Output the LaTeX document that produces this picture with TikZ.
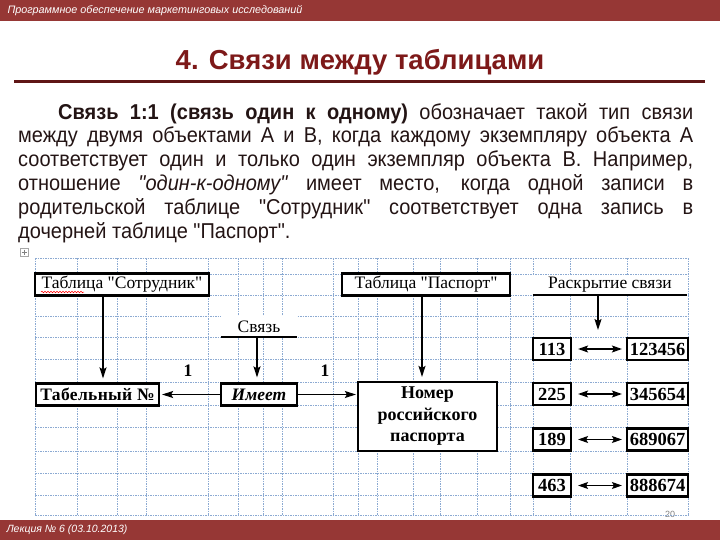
\documentclass[tikz,border=0pt]{standalone}
\usepackage{fontspec}
\setmainfont{Liberation Serif}[Ligatures=TeXOff]
\newfontfamily\arialf{Liberation Sans}[Ligatures=TeXOff]
\newfontfamily\narrowf{Liberation Sans}[FakeStretch=0.93, Ligatures=TeXOff]
\usetikzlibrary{arrows.meta,decorations.pathmorphing}
\definecolor{barred}{RGB}{150,55,53}
\definecolor{titlered}{RGB}{125,25,25}
\definecolor{rulered}{RGB}{95,22,22}
\definecolor{gridblue}{RGB}{140,170,210}
\definecolor{bodytext}{RGB}{35,20,20}

\begin{document}
\begin{tikzpicture}[x=1pt,y=-1pt]
    \tikzset{box/.style={draw=black, line width=2.2pt, fill=white, inner sep=0pt, minimum width=#1, minimum height=22pt, font=\fontsize{17.5}{19}\selectfont},
        boldbox/.style={box=#1, font=\bfseries\fontsize{18}{20}\selectfont},
        numbox/.style={box=#1, font=\bfseries\fontsize{18.5}{20}\selectfont},
        plain/.style={fill=white, inner sep=0pt, font=\fontsize{17.5}{19}\selectfont},
        arr/.style={-{Stealth[length=11pt,width=7pt,inset=2pt]}, line width=1.4pt},
        gridline/.style={gridblue, line width=0.6pt, dash pattern=on 1.5pt off 1pt}}
    
    \useasboundingbox (0,0) rectangle (720,540);
    
    % Header and footer
    \fill[barred] (0,0) rectangle (720,21);
    \fill[barred] (0,520) rectangle (720,540);
    \node[anchor=west, white, font=\arialf\itshape\fontsize{10.8}{12}\selectfont] (head) at (4,10.5) {Программное обеспечение маркетинговых исследований};
    \node[anchor=west, white, font=\arialf\itshape\fontsize{10.5}{12}\selectfont] (foot) at (3,530) {Лекция № 6 (03.10.2013)};
    \node[gray, font=\arialf\fontsize{9}{10}\selectfont] (page) at (670,514) {20};
    
    % Title
    \node[titlered, font=\arialf\bfseries\fontsize{27.5}{30}\selectfont] (title) at (360,62) {4. Связи между таблицами};
    \draw[rulered, line width=3pt] (14,82) -- (705,82);
    
    % Definition text
    \node[anchor=north west, inner sep=0pt, align=left, bodytext, font=\narrowf\fontsize{21.5}{23.8}\selectfont] (text) at (18,103) {%
        \makebox[675pt][s]{\hspace*{40pt}\textbf{Связь 1:1 (связь один к одному)} обозначает такой тип связи}\\
        \makebox[675pt][s]{между двумя объектами А и В, когда каждому экземпляру объекта А}\\
        \makebox[675pt][s]{соответствует один и только один экземпляр объекта В. Например,}\\
        \makebox[675pt][s]{отношение \textit{"один-к-одному"} имеет место, когда одной записи в}\\
        \makebox[675pt][s]{родительской таблице "Сотрудник" соответствует одна запись в}\\
        дочерней таблице "Паспорт".};
    
    % Table grid
    \foreach \gx in {35,77,117,146,208,238,263,282,333,358,377,413,440,477,510,533,570,627,688}
        \draw[gridline] (\gx,258) -- (\gx,515);
    \foreach \gy in {258,274,295,316,337,359,382,405,427,451,473,495,515}
        \draw[gridline] (35,\gy) -- (688,\gy);
    \draw[gray!70, fill=white, line width=0.5pt] (20,248) rectangle (28,256);
    \draw[gray, line width=0.5pt] (21.5,252) -- (26.5,252) (24,249.5) -- (24,254.5);
    
    % Tables and relation
    \node[box=174pt] (sotr) at (122,284.5) {Таблица "Сотрудник"};
    \draw[red, line width=0.5pt, decorate, decoration={snake, amplitude=0.8pt, segment length=3pt}] (41,292) -- (84,292);
    \node[box=168pt] (pasp) at (426,284.5) {Таблица "Паспорт"};
    \node[plain, minimum width=154pt, minimum height=20pt] (rask) at (610,285) {Раскрытие связи};
    \draw[line width=2pt] (rask.south west) -- (rask.south east);
    \node[plain, minimum width=76pt, minimum height=21pt] (svyaz) at (259,326.5) {Связь};
    \draw[line width=2pt] (svyaz.south west) -- (svyaz.south east);
    
    \node[boldbox=123pt, font=\bfseries\fontsize{17.5}{20}\selectfont\addfontfeature{LetterSpace=2}] (tab) at (97.5,394.5) {Табельный №};
    \node[box=76pt, font=\bfseries\itshape\fontsize{17.5}{19}\selectfont] (imeet) at (259,394.5) {Имеет};
    \node[boldbox=139pt, minimum height=69pt, align=center, font=\bfseries\fontsize{18}{21.5}\selectfont] (nomer) at (427.5,416.5) {Номер\\российского\\паспорта};
    \node[font=\bfseries\fontsize{17.5}{19}\selectfont] (one1) at (188,371) {1};
    \node[font=\bfseries\fontsize{17.5}{19}\selectfont] (one2) at (325,371) {1};
    
    \draw[arr, shorten >=4pt] ([xshift=-19pt]sotr.south) -- ([xshift=-19pt]sotr.south |- tab.north);
    \draw[arr, shorten >=4pt] ([xshift=-4pt]pasp.south) -- ([xshift=-4pt]pasp.south |- nomer.north);
    \draw[arr, shorten >=5pt] ([xshift=-2pt]svyaz.south) -- ([xshift=-2pt]svyaz.south |- imeet.north);
    \draw[arr, shorten >=2pt] (imeet.west) -- (tab.east);
    \draw[arr, shorten >=1pt] (imeet.east) -- (imeet.east -| nomer.west);
    \coordinate (raskend) at (598,330);
    \draw[arr] (rask.south -| raskend) -- (raskend);
    
    % Value pairs
    \foreach \i/\a/\b/\y in {1/113/123456/349, 2/225/345654/394, 3/189/689067/439.5, 4/463/888674/485.5}{
        \node[numbox=38pt] (l\i) at (552,\y) {\a};
        \node[numbox=61pt] (r\i) at (657.5,\y) {\b};
        \draw[{Stealth[length=10pt,width=7pt,inset=2pt]}-{Stealth[length=10pt,width=7pt,inset=2pt]}, line width=1.1pt, shorten <=6pt, shorten >=4pt] (l\i) -- (r\i);
    }
\end{tikzpicture}
\end{document}
